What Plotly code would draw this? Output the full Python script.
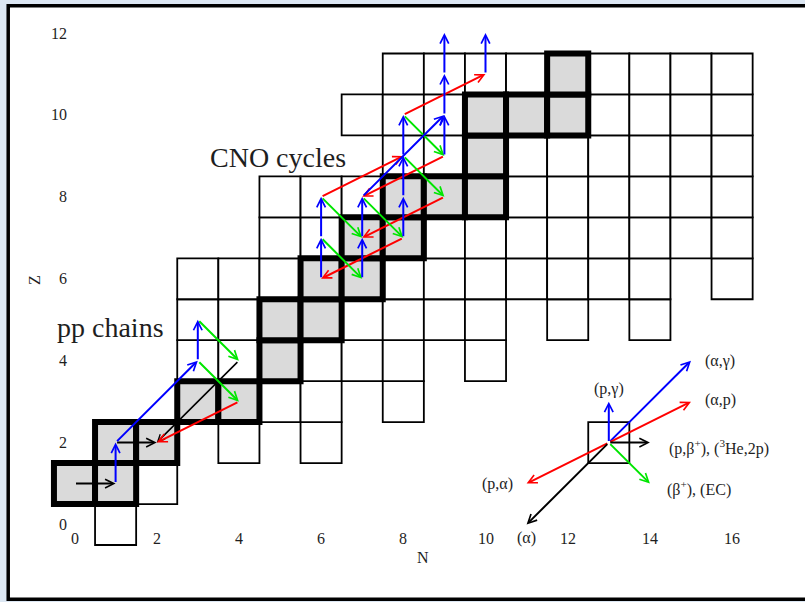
import plotly.graph_objects as go

# ---- chart of nuclides: for every proton number Z, the neutron numbers N drawn ----
row_Z = [0, 1, 2, 3, 4, 5, 6, 7, 8, 9, 10, 11]
row_N = [
    [1],
    [0, 1, 2],
    [1, 2, 4, 6],
    [3, 4, 5, 6, 8],
    [3, 4, 5, 6, 7, 8, 10],
    [3, 4, 5, 6, 7, 8, 9, 10, 12, 14],
    [3, 4, 5, 6, 7, 8, 9, 10, 11, 12, 13, 14, 16],
    [5, 6, 7, 8, 9, 10, 11, 12, 13, 14, 15, 16],
    [5, 6, 7, 8, 9, 10, 11, 12, 13, 14, 15, 16],
    [8, 9, 10, 11, 12, 13, 14, 15, 16],
    [7, 8, 9, 10, 11, 12, 13, 14, 15, 16],
    [8, 9, 10, 11, 12, 13, 14, 15, 16],
]

# stable nuclei (shaded, heavy outline)
stable_N = [0, 1, 1, 2, 3, 4, 5, 5, 6, 6, 7, 7, 8, 8, 9, 10, 10, 10, 11, 12, 12]
stable_Z = [1, 1, 2, 2, 3, 3, 4, 5, 5, 6, 6, 7, 7, 8, 8, 8, 9, 10, 10, 10, 11]

# reactions as (N_from, Z_from, N_to, Z_to)
p_gamma = [(1, 1, 1, 2), (3, 4, 3, 5), (6, 6, 6, 7), (6, 7, 6, 8), (7, 6, 7, 7),
           (7, 7, 7, 8), (8, 7, 8, 8), (8, 8, 8, 9), (8, 9, 8, 10), (9, 9, 9, 10),
           (9, 10, 9, 11), (9, 11, 9, 12), (10, 11, 10, 12)]
alpha_gamma = [(1, 2, 3, 4), (7, 8, 9, 10)]
alpha_p = [(6, 8, 8, 9), (8, 10, 10, 11)]
p_alpha = [(4, 3, 2, 2), (8, 7, 6, 6), (9, 8, 7, 7), (9, 9, 7, 8)]
beta_plus = [(3, 5, 4, 4), (3, 4, 4, 3), (6, 7, 7, 6), (6, 8, 7, 7), (7, 8, 8, 7),
             (8, 9, 9, 8), (8, 10, 9, 9)]
p_beta_he3 = [(0, 1, 1, 1), (1, 2, 2, 2)]
alpha_decay = [(4, 4, 2, 2)]

# key: reaction steps from one nucleus
key_origin = (13, 2)
key_dN = [0, 2, 2, -2, 1, 1, -2]
key_dZ = [1, 2, 1, -1, 0, -1, -2]
key_labels = ["(p,γ)", "(α,γ)", "(α,p)", "(p,α)",
              "(p,β<sup>+</sup>), (<sup>3</sup>He,2p)", "(β<sup>+</sup>), (EC)", "(α)"]

x_ticks = [0, 2, 4, 6, 8, 10, 12, 14, 16]
y_ticks = [0, 2, 4, 6, 8, 10, 12]

# ---- styling ----
BLUE, RED, GREEN, BLACK = "#0000ff", "#ff0000", "#00e600", "#000000"
SERIF = "Liberation Serif, Times New Roman, serif"
TEXT = "#1e1e1e"
key_colors = [BLUE, BLUE, RED, RED, BLACK, GREEN, BLACK]
# label anchor points relative to the key origin and anchors
key_label_pos = [(0.0, 1.32, "center"), (2.28, 1.99, "left"), (2.28, 1.03, "left"),
                 (-2.28, -1.02, "right"), (1.42, -0.13, "left"), (1.37, -1.12, "left"),
                 (-2.0, -2.33, "center")]

shapes = []
# outer frame
shapes.append(dict(type="rect", xref="paper", yref="paper", x0=0.0102, x1=1.02,
                   y0=0.0045, y1=0.9903, line=dict(color="black", width=3.5),
                   fillcolor="white", layer="below"))

stable_set = set(zip(stable_N, stable_Z))
for z, ns in zip(row_Z, row_N):
    for n in ns:
        if (n, z) in stable_set:
            continue
        shapes.append(dict(type="rect", xref="x", yref="y", x0=n - 0.5, x1=n + 0.5,
                           y0=z - 0.5, y1=z + 0.5, line=dict(color="black", width=1.8),
                           fillcolor="white"))
# key cell
shapes.append(dict(type="rect", xref="x", yref="y", x0=key_origin[0] - 0.5,
                   x1=key_origin[0] + 0.5, y0=key_origin[1] - 0.5, y1=key_origin[1] + 0.5,
                   line=dict(color="black", width=1.8), fillcolor="white"))
for n, z in zip(stable_N, stable_Z):
    shapes.append(dict(type="rect", xref="x", yref="y", x0=n - 0.5, x1=n + 0.5,
                       y0=z - 0.5, y1=z + 0.5, line=dict(color="black", width=6),
                       fillcolor="#dadada"))

annotations = []


def arrow(n0, z0, n1, z1, color, width=2.0):
    return dict(x=n1, y=z1, ax=n0, ay=z0, xref="x", yref="y", axref="x", ayref="y",
                text="", showarrow=True, arrowhead=5, arrowsize=0.85,
                arrowwidth=width, arrowcolor=color, standoff=0, startstandoff=0)


for group, color in [(alpha_decay, BLACK), (p_beta_he3, BLACK), (p_alpha, RED),
                     (alpha_p, RED), (beta_plus, GREEN), (alpha_gamma, BLUE),
                     (p_gamma, BLUE)]:
    for n0, z0, n1, z1 in group:
        annotations.append(arrow(n0, z0, n1, z1, color,
                                 1.6 if group is alpha_decay else 2.0))

n0, z0 = key_origin
for dn, dz, col, lab, (lx, ly, anc) in zip(key_dN, key_dZ, key_colors, key_labels,
                                           key_label_pos):
    annotations.append(arrow(n0, z0, n0 + dn, z0 + dz, col))
    annotations.append(dict(x=n0 + lx, y=z0 + ly, xref="x", yref="y", text=lab,
                            showarrow=False, xanchor=anc, yanchor="middle",
                            font=dict(family=SERIF, size=16, color=TEXT)))

# tick labels
for t in x_ticks:
    annotations.append(dict(x=t, y=-0.33, xref="x", yref="y", text=str(t),
                            showarrow=False, xanchor="center", yanchor="middle",
                            font=dict(family=SERIF, size=16, color=TEXT)))
for t in y_ticks:
    annotations.append(dict(x=-0.13, y=t, xref="x", yref="y", text=str(t),
                            showarrow=False, xanchor="right", yanchor="middle",
                            font=dict(family=SERIF, size=16, color=TEXT)))

# axis titles
annotations.append(dict(x=8.48, y=-0.8, xref="x", yref="y", text="N", showarrow=False,
                        font=dict(family=SERIF, size=16, color=TEXT)))
annotations.append(dict(x=-0.96, y=5.97, xref="x", yref="y", text="Z", showarrow=False,
                        textangle=-90, font=dict(family=SERIF, size=16, color=TEXT)))

# region labels
annotations.append(dict(x=3.25, y=8.97, xref="x", yref="y", text="CNO cycles",
                        showarrow=False, xanchor="left", yanchor="middle",
                        font=dict(family=SERIF, size=28, color=TEXT)))
annotations.append(dict(x=-0.47, y=4.82, xref="x", yref="y", text="pp chains",
                        showarrow=False, xanchor="left", yanchor="middle",
                        font=dict(family=SERIF, size=28, color=TEXT)))

fig = go.Figure()
fig.add_trace(go.Scatter(x=[None], y=[None], mode="markers", showlegend=False,
                         hoverinfo="skip"))
fig.update_layout(
    width=805, height=602, autosize=False,
    margin=dict(l=0, r=0, t=0, b=0, pad=0),
    paper_bgcolor="#dce7f3", plot_bgcolor="#dce7f3",
    showlegend=False,
    xaxis=dict(range=[-74.5 / 41.1, (805 - 74.5) / 41.1], visible=False, fixedrange=True),
    yaxis=dict(range=[(545 - 602) / 40.96 - 0.5, 545 / 40.96 - 0.5], visible=False,
               fixedrange=True),
    shapes=shapes,
    annotations=annotations,
)

fig.write_html("out.html")
